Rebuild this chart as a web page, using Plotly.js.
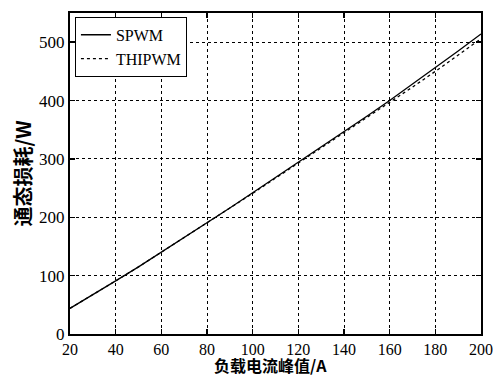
<!DOCTYPE html>
<html><head><meta charset="utf-8">
<script src="https://cdn.plot.ly/plotly-3.0.1.min.js"></script>
<style>body{margin:0;background:#fff}#c{width:493px;height:378px}</style>
</head><body><div id="c"></div>
<script>
const current = [20,30,40,50,60,70,80,90,100,110,120,130,140,150,160,170,180,190,200];
const spwm    = [44,67,91,115,140,165,190,216,242,268,295,321,347,373,400,428,456,485,514];
const thipwm  = [44,67,91,115,140,165,190,216,241,267,293,319,344,370,396,423,450,478,506];
const xTicks = [20,40,60,80,100,120,140,160,180,200];
const yTicks = [0,100,200,300,400,500];
const seriesNames = ['SPWM','THIPWM'];
const xTitle = '负载电流峰值/A';
const yTitle = '通态损耗/W';

const serif = 'Liberation Serif, Times New Roman, serif';
const cjk = 'Noto Sans CJK SC, sans-serif';

const traces = [
  {x: current, y: spwm, name: seriesNames[0], mode:'lines', line:{color:'#000', width:1.3}},
  {x: current, y: thipwm, name: seriesNames[1], mode:'lines', line:{color:'#000', width:1.3, dash:'dot'}}
];
const axisCommon = {
  showline:true, linecolor:'#000', linewidth:2, mirror:'ticks',
  ticks:'inside', ticklen:5, tickcolor:'#000', tickwidth:1.5,
  showgrid:true, gridcolor:'#000', gridwidth:1, griddash:'dot',
  zeroline:false, tickfont:{family:serif, size:17, color:'#000'},
  ticklabeloverflow:'allow'
};
const layout = {
  width:493, height:378,
  margin:{l:70, r:12, t:13, b:44},
  paper_bgcolor:'#fff', plot_bgcolor:'#fff',
  showlegend:true,
  legend:{x:0.012, y:0.988, xanchor:'left', yanchor:'top', bgcolor:'#fff',
    bordercolor:'#000', borderwidth:1, font:{family:serif, size:16, color:'#000'},
    tracegroupgap:0, itemwidth:30},
  xaxis:Object.assign({}, axisCommon, {range:[20,200], tickvals:xTicks, ticktext:xTicks.map(String),
    tickfont:{family:serif, size:16, color:'#000'}, ticklabelstandoff:0}),
  yaxis:Object.assign({}, axisCommon, {range:[0,550], tickvals:yTicks, ticktext:yTicks.map(String),
    title:{text:yTitle, font:{family:cjk, size:20, color:'#000', weight:'bold'}, standoff:2}}),
  annotations:[{text:xTitle, xref:'paper', yref:'paper', x:0.487, y:-0.137,
    xanchor:'center', yanchor:'bottom', showarrow:false, borderpad:0,
    font:{family:cjk, size:16, color:'#000', weight:'bold'}}]
};
Plotly.newPlot('c', traces, layout, {staticPlot:true});
</script></body></html>
